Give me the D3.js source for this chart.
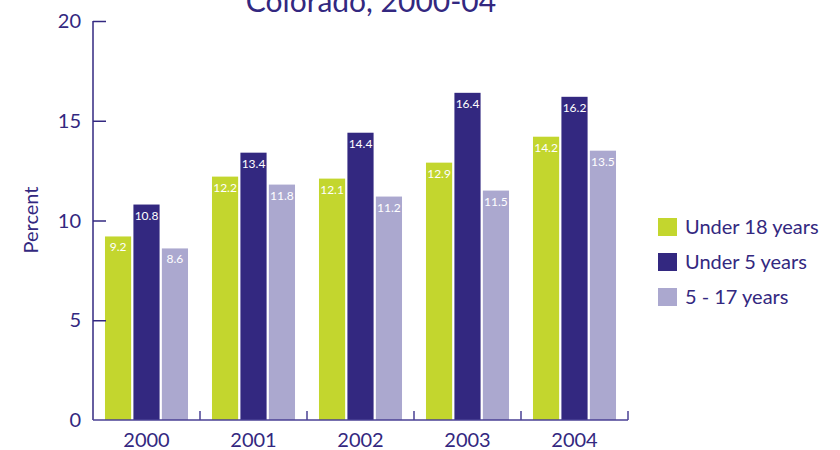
<!DOCTYPE html>
<html><head><meta charset="utf-8">
<script src="https://cdn.jsdelivr.net/npm/d3@7"></script>
<style>body{margin:0;background:#fff;}svg{display:block;font-family:Lato,"Open Sans",sans-serif;}</style>
</head><body><svg id="c" width="840" height="450"></svg>
<script>
const years = ["2000","2001","2002","2003","2004"];
const seriesNames = ["Under 18 years","Under 5 years","5 - 17 years"];
const under18 = [9.2,12.2,12.1,12.9,14.2];
const under5 = [10.8,13.4,14.4,16.4,16.2];
const age5to17 = [8.6,11.8,11.2,11.5,13.5];
const yTicks = [0,5,10,15,20];
const title = "Colorado, 2000-04";
const colors = ["#c3d62e","#332880","#aba8cf"];
const values = [under18, under5, age5to17];
const ink = "#332880";

(function(){
const svg = d3.select("#c");
const L = 93, R = 628, T = 21, B = 420;
const x = d3.scaleBand().domain(years).range([L,R]).paddingInner(0.224).paddingOuter(0.112);
const xs = d3.scaleBand().domain(d3.range(3)).range([0,x.bandwidth()]).paddingInner(0.08);
const y = d3.scaleLinear().domain([0,20]).range([B,T]);

svg.append("text").attr("x",371).attr("y",12).attr("text-anchor","middle")
  .attr("font-size",30).attr("fill",ink).text(title);

years.forEach((yr,i)=>{
  values.forEach((s,j)=>{
    const bx = x(yr)+xs(j), by = y(s[i]);
    svg.append("rect").attr("x",bx).attr("y",by).attr("width",xs.bandwidth())
      .attr("height",B-by).attr("fill",colors[j]);
    svg.append("text").attr("x",bx+xs.bandwidth()/2).attr("y",by+15)
      .attr("text-anchor","middle").attr("font-size",12).attr("fill","#fff").text(s[i].toFixed(1));
  });
});

const ya = svg.append("g").attr("transform",`translate(${L},0)`)
  .call(d3.axisRight(y).tickValues(yTicks).tickSize(13).tickFormat(""));
ya.select(".domain").attr("d",`M0,${B}V${T}`).attr("stroke",ink).attr("stroke-width",1.5);
ya.selectAll(".tick line").attr("stroke",ink).attr("stroke-width",1.5);
ya.selectAll(".tick").filter(d=>d===0).select("line").remove();
svg.append("g").selectAll("text").data(yTicks).join("text")
  .attr("x",81).attr("y",d=>y(d)+7).attr("text-anchor","end")
  .attr("font-size",20).attr("fill",ink).text(d=>d);

const xa = svg.append("g").attr("transform",`translate(0,${B})`)
  .call(d3.axisBottom(x).tickSize(0).tickFormat(""));
xa.select(".domain").attr("d",`M${L},0H${R}`).attr("stroke","#4a4195").attr("stroke-width",1.5);
xa.selectAll(".tick").remove();
const bounds = years.slice(1).map(yr=>x(yr)-x.step()*x.paddingInner()/2).concat([R]);
svg.append("g").selectAll("line").data(bounds).join("line")
  .attr("x1",d=>d).attr("x2",d=>d).attr("y1",B).attr("y2",B-9)
  .attr("stroke","#4a4195").attr("stroke-width",1.5);
svg.append("g").selectAll("text").data(years).join("text")
  .attr("x",d=>x(d)+x.bandwidth()/2).attr("y",447).attr("text-anchor","middle")
  .attr("font-size",20).attr("fill",ink).text(d=>d);

svg.append("text").attr("transform","translate(38,220) rotate(-90)").attr("text-anchor","middle")
  .attr("font-size",20).attr("fill",ink).text("Percent");

const lg = svg.append("g");
seriesNames.forEach((n,j)=>{
  const ly = 218 + j*35;
  lg.append("rect").attr("x",658).attr("y",ly).attr("width",19).attr("height",18).attr("fill",colors[j]);
  lg.append("text").attr("x",685).attr("y",ly+16).attr("font-size",20).attr("fill",ink).text(n);
});
})();
</script></body></html>
